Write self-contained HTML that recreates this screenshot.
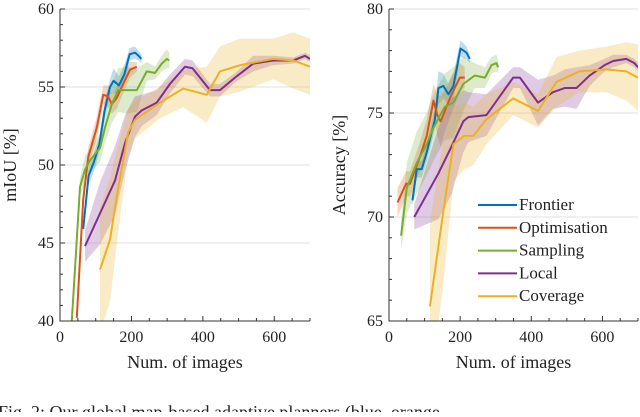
<!DOCTYPE html>
<html><head><meta charset="utf-8"><style>
body{margin:0;background:#fff;width:640px;height:412px;overflow:hidden;font-family:'Liberation Serif','DejaVu Serif',serif}
text{font-family:'Liberation Serif','DejaVu Serif',serif}
</style></head><body>
<svg id="svg" width="640" height="412" viewBox="0 0 640 412" xmlns="http://www.w3.org/2000/svg" font-family="Liberation Serif, DejaVu Serif, serif">
<text x="-2" y="418" font-size="18" fill="#222" font-family="Liberation Serif, DejaVu Serif, serif">Fig. 2: Our global map-based adaptive planners (blue, orange</text>
</svg>
<script>
const seriesNames=["Frontier","Optimisation","Sampling","Local","Coverage"];
const colors=["#0072BD","#D95319","#77AC30","#7E2F8E","#EDB120"];
const xTicks=[0,200,400,600];
// left chart (mIoU)
const L_blueX=[65,80,95,110,125,140,150,165,180,195,210,220,228];
const L_blueY=[45.9,49.3,50.2,51.3,53.5,55,55.4,55.1,55.8,57.1,57.2,57.0,56.8];
const L_blueE=[0.4,0.6,0.6,0.5,0.6,0.5,0.8,0.6,0.6,0.4,0.4,0.3,0.3];
const L_orX=[47,65,79,103,121,135,145,159,177,196,215];
const L_orY=[40.2,47.8,50.5,52.4,54.5,54.4,53.9,54.3,55.2,56.1,56.3];
const L_orE=[0.6,0.6,0.6,0.7,0.6,0.7,0.6,0.7,0.6,0.5,0.3];
const L_grX=[33,56,70,84,112,126,145,163,187,215,243,266,285,299,306];
const L_grY=[40,48.6,49.7,50.3,51.1,52.4,53.9,54.8,54.8,54.8,56,55.9,56.5,56.8,56.7];
const L_grE=[0.5,0.6,0.9,0.8,0.9,1.0,1.2,1.4,1.5,1.4,0.6,0.4,0.5,0.6,0.5];
const L_puX=[70,112,154,182,210,229,271,308,350,371,420,448,490,541,597,653,686,700];
const L_puY=[44.8,46.9,49,51.4,53.1,53.5,54,55.2,56.3,56.2,54.8,54.8,55.6,56.5,56.7,56.7,57,56.8];
const L_puE=[1.0,2.0,2.2,1.8,1.3,1.0,0.8,0.6,0.5,0.5,0.4,0.4,0.3,0.5,0.3,0.2,0.2,0.2];
const L_yeX=[112,140,159,191,210,280,345,411,448,504,597,653,700];
const L_yeY=[43.3,45.2,48,52.1,52.9,54,54.9,54.5,56,56.4,56.8,56.7,56.3];
const L_yeE=[4,4,3,1.5,1.2,1.0,1.2,1.8,1.6,1.7,1.3,1.8,1.8];
// right chart (Accuracy)
const R_blueX=[66,78,92,106,129,139,153,167,181,201,218,227];
const R_blueY=[70.8,72.3,72.3,73.1,74.7,76.2,76.3,75.9,76.3,78.1,77.9,77.6];
const R_blueE=[0.3,0.4,0.4,0.4,0.5,0.8,0.6,0.5,0.6,0.4,0.3,0.2];
const R_orX=[24,48,59,87,106,125,136,145,157,176,199,213];
const R_orY=[70.7,71.6,71.6,72.9,73.9,75.6,74.9,74.6,75.1,75.9,76.7,76.7];
const R_orE=[0.7,0.6,0.6,0.7,0.8,0.8,1.0,1.2,1.0,0.9,0.7,0.5];
const R_grX=[34,50,78,106,125,157,181,209,241,270,288,302,307];
const R_grY=[69.1,71.4,72.6,73.5,74.3,75.3,75.5,76.4,76.8,76.7,77.3,77.4,77.2];
const R_grE=[0.7,1.2,1.5,1.5,1.6,1.6,1.7,1.3,0.6,0.5,0.4,0.4,0.3];
const R_puX=[71,139,176,209,223,274,349,368,419,461,494,527,564,606,630,667,690,700];
const R_puY=[70,72.1,73.4,74.6,74.8,74.9,76.7,76.7,75.5,76,76.2,76.2,76.8,77.3,77.5,77.6,77.4,77.2];
const R_puE=[0.6,2.2,2.3,1.5,1.2,1.0,0.5,0.5,1.1,0.8,0.9,1.0,0.5,0.3,0.3,0.2,0.2,0.2];
const R_yeX=[115,153,181,211,237,274,349,419,471,536,611,667,700];
const R_yeY=[65.7,70.3,73.5,73.9,73.9,74.7,75.7,75.1,76.5,77,77.1,77,76.7];
const R_yeE=[4,3.5,1.8,1.6,1.4,1.2,0.8,0.8,1.2,1.0,1.1,1.4,1.6];

const NS="http://www.w3.org/2000/svg";
const FONT="Liberation Serif, DejaVu Serif, serif";
const svg=document.getElementById('svg');
function mk(tag,attrs,parent){const e=document.createElementNS(NS,tag);for(const k in attrs)e.setAttribute(k,attrs[k]);if(tag==='text'){e.setAttribute('font-family',FONT);e.setAttribute('fill','#222');}(parent||svg).appendChild(e);return e;}

function chart(id,x0,x1,yTop,yBot,ymin,ymax,yStep,title,series,legend){
  const sx=v=>x0+(v/700)*(x1-x0);
  const sy=v=>yBot-(v-ymin)/(ymax-ymin)*(yBot-yTop);
  const g=mk('g',{});
  
  
  const cp=mk('clipPath',{id:id+'-clip'},g);
  mk('rect',{x:x0,y:yTop,width:x1-x0,height:yBot-yTop},cp);
  for(let v=ymin;v<=ymax;v+=yStep){
    const gl=mk('line',{x1:x0,x2:x1,y1:sy(v),y2:sy(v),stroke:'#e2e2e2','stroke-width':1},g);
    
    
  }
  const pg=mk('g',{'clip-path':'url(#'+id+'-clip)'},g);
  series.forEach((s,i)=>{
    const up=s.x.map((v,j)=>sx(v)+','+sy(s.y[j]+s.e[j]));
    const dn=s.x.map((v,j)=>sx(v)+','+sy(s.y[j]-s.e[j])).reverse();
    const band=mk('polygon',{points:up.concat(dn).join(' '),fill:colors[i],'fill-opacity':0.25,stroke:'none'},pg);
    
    
  });
  series.forEach((s,i)=>{
    const ln=mk('polyline',{points:s.x.map((v,j)=>sx(v)+','+sy(s.y[j])).join(' '),fill:'none',stroke:colors[i],'stroke-width':2,'stroke-linejoin':'round'},pg);
    
    
  });
  const ax=mk('path',{d:`M${x0},${yTop}V${yBot}H${x1}`,fill:'none',stroke:'#333','stroke-width':1},g);
  
  
  for(let v=ymin;v<=ymax;v+=1){
    const major=(v-ymin)%yStep===0;
    mk('line',{x1:x0,x2:x0+(major?5:3),y1:sy(v),y2:sy(v),stroke:'#333'},g);
  }
  for(let v=ymin;v<=ymax;v+=yStep){
    const t=mk('text',{x:x0-6,y:sy(v)+5,'font-size':16,'text-anchor':'end'},g);t.textContent=v;
    
    
  }
  for(let v=0;v<=700;v+=50){
    const major=v%200===0;
    mk('line',{x1:sx(v),x2:sx(v),y1:yBot,y2:yBot-(major?5:3),stroke:'#333'},g);
  }
  xTicks.forEach(v=>{
    const t=mk('text',{x:sx(v),y:yBot+21,'font-size':16,'text-anchor':'middle'},g);t.textContent=v;
    
    
  });
  const xt=mk('text',{x:(x0+x1)/2,y:yBot+47,'font-size':18,'text-anchor':'middle'},g);xt.textContent='Num. of images';
  
  
  const yx=x0-44, yy=(yTop+yBot)/2;
  const yt=mk('text',{x:yx,y:yy,'font-size':18,'text-anchor':'middle',transform:`rotate(-90 ${yx} ${yy})`},g);yt.textContent=title;
  
  
  if(legend){
    seriesNames.forEach((n,i)=>{
      const y=205+i*22.8;
      const le=mk('g',{},g);
      
      
      mk('line',{x1:478,x2:517,y1:y,y2:y,stroke:colors[i],'stroke-width':2},le);
      const t=mk('text',{x:519,y:y+5,'font-size':17},le);t.textContent=n;
    });
  }
}
chart('miou-chart',60,310,9,321,40,60,5,'mIoU [%]',[
 {x:L_blueX,y:L_blueY,e:L_blueE},{x:L_orX,y:L_orY,e:L_orE},{x:L_grX,y:L_grY,e:L_grE},{x:L_puX,y:L_puY,e:L_puE},{x:L_yeX,y:L_yeY,e:L_yeE}],false);
chart('accuracy-chart',389,638,9,321,65,80,5,'Accuracy [%]',[
 {x:R_blueX,y:R_blueY,e:R_blueE},{x:R_orX,y:R_orY,e:R_orE},{x:R_grX,y:R_grY,e:R_grE},{x:R_puX,y:R_puY,e:R_puE},{x:R_yeX,y:R_yeY,e:R_yeE}],true);
</script>
</body></html>
